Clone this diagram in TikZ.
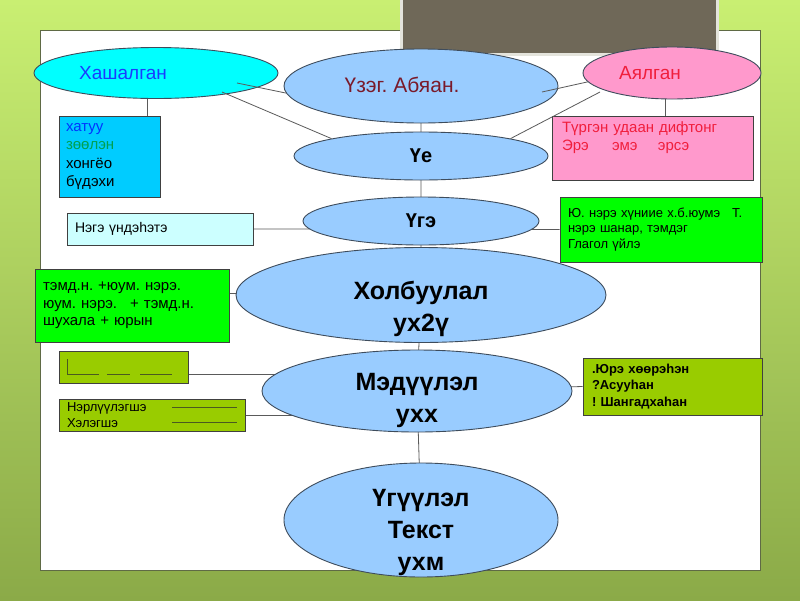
\documentclass[tikz,border=0pt]{standalone}
\usepackage{fontspec}
\setmainfont{Liberation Sans}
\usetikzlibrary{shapes.geometric,backgrounds}
\definecolor{leaf}{HTML}{C9EF72}
\definecolor{moss}{HTML}{8BAA48}
\definecolor{slate}{HTML}{6F6858}
\definecolor{pale}{HTML}{E4E4DC}
\definecolor{rim}{HTML}{5F6A45}
\definecolor{sky}{HTML}{99CCFF}
\definecolor{aqua}{HTML}{00FFFF}
\definecolor{rose}{HTML}{FF99CC}
\definecolor{deepsky}{HTML}{00CCFF}
\definecolor{ice}{HTML}{CCFFFF}
\definecolor{grass}{HTML}{00FF00}
\definecolor{sprout}{HTML}{99CC00}
\definecolor{edge}{HTML}{3E4C5C}
\definecolor{frame}{HTML}{404040}
\definecolor{wire}{HTML}{5A5A5A}
\definecolor{rule}{HTML}{4A5A20}
\definecolor{hashblue}{HTML}{1A3CFF}
\definecolor{inkblue}{HTML}{0033FF}
\definecolor{inkgreen}{HTML}{00A050}
\definecolor{wine}{HTML}{7A1A2A}
\definecolor{scarlet}{HTML}{F01E3C}
\newcommand{\fsz}[2]{\fontsize{#1}{#2}\selectfont}
\frenchspacing

\begin{document}
\begin{tikzpicture}[x=1pt,y=-1pt,
 bubble/.style={ellipse,draw=edge,line width=0.9pt,fill=sky,inner sep=0pt},
 word/.style={font=\bfseries\fsz{25}{32},align=center},
 box/.style={draw=frame,line width=0.7pt,inner xsep=7pt,inner ysep=0pt,align=left},
 link/.style={draw=wire,line width=0.8pt}]
\useasboundingbox (0,0) rectangle (800,600);
% ellipses
\node[bubble,fill=aqua,minimum width=244pt,minimum height=51pt,font=\fsz{19}{22},text=hashblue] (hash) at (156,73) {Хашалган\hspace*{66pt}};
\node[bubble,minimum width=274pt,minimum height=74pt,font=\fsz{21}{24},text=wine] (uzeg) at (421,86) {\raisebox{3pt}{Үзэг. Абяан.}\hspace*{38pt}};
\node[bubble,fill=rose,minimum width=178pt,minimum height=52pt,font=\fsz{19}{22},text=scarlet] (ayl) at (672,73) {Аялган\hspace*{44pt}};
\node[bubble,minimum width=254pt,minimum height=48pt,font=\bfseries\fsz{20}{24}] (ye) at (421,156) {Үе};
\node[bubble,minimum width=236pt,minimum height=48pt,font=\bfseries\fsz{20}{24}] (uge) at (421,221) {Үгэ};
\node[bubble,minimum width=370pt,minimum height=95pt,label={[word,yshift=-14pt]center:Холбуулал\\ух2ү}] (holb) at (421,295) {};
\node[bubble,minimum width=310pt,minimum height=82pt,label={[word,yshift=-9pt]center:Мэдүүлэл\\ухх}] (med) at (417,391) {};
\node[bubble,minimum width=274pt,minimum height=114pt,label={[word,yshift=-12pt]center:Үгүүлэл\\Текст\\ухм}] (tekst) at (421,520) {};
% boxes
\node[box,fill=deepsky,minimum width=101pt,minimum height=81pt,text width=87pt,font=\fsz{15}{18.5}] (hard) at (109.5,156.5) {\textcolor{inkblue}{хатуу}\\\textcolor{inkgreen}{зөөлэн}\\хонгёо\\бүдэхи};
\node[box,fill=rose,minimum width=201pt,minimum height=64pt,text width=181pt,inner xsep=10pt,font=\fsz{15}{18.5},text=scarlet] (sound) at (652.5,148) {Түргэн удаан дифтонг\\\makebox[50pt][l]{Эрэ}\makebox[46pt][l]{эмэ}эрсэ\\\strut};
\node[box,fill=ice,minimum width=186pt,minimum height=32pt,text width=170pt,inner xsep=8pt,font=\fsz{14}{17}] (ones) at (160,229) {Нэгэ үндэһэтэ};
\node[box,fill=grass,minimum width=194pt,minimum height=73pt,text width=178pt,inner xsep=8pt,font=\fsz{15}{17.5}] (comb) at (132,305.5) {тэмд.н. +юум. нэрэ.\\юум. нэрэ.\hspace{8pt} + тэмд.н.\\шухала + юрын};
\node[box,fill=grass,minimum width=202pt,minimum height=65pt,text width=186pt,inner xsep=8pt,font=\fsz{13}{15.5}] (nouns) at (661,229.5) {Ю. нэрэ хүниие х.б.юумэ\hspace{12pt}Т.\\нэрэ шанар, тэмдэг\\Глагол үйлэ};
\node[box,fill=sprout,minimum width=129pt,minimum height=32pt] (blank) at (123.5,367) {};
\node[box,fill=sprout,minimum width=186pt,minimum height=32pt,text width=170pt,inner xsep=8pt,font=\fsz{13}{16}] (mark) at (152,415) {Нэрлүүлэгшэ\\Хэлэгшэ};
\node[box,fill=sprout,minimum width=179pt,minimum height=57pt,text width=161pt,inner xsep=9pt,font=\bfseries\fsz{13}{16.5}] (kind) at (672.5,386.5) {.Юрэ хөөрэһэн\\?Асууһан\\! Шангадхаһан};
% blanks to fill in
\draw[rule,line width=0.9pt] (67,359) -- (67,374) -- (99,374) (107,374) -- (130,374) (140,374) -- (172,374);
\draw[rule,line width=0.9pt] (172,407) -- (237,407) (172,422) -- (237,422);
\begin{pgfonlayer}{background}
\shade[top color=leaf,bottom color=moss] (0,0) rectangle (800,600);
\draw[fill=white,draw=rim,line width=1pt] (40,30) rectangle (760,570);
\draw[fill=slate,draw=pale,line width=3pt] (401.5,-5) rectangle (717.5,54.5);
\draw[link] (uzeg.center) -- (ye.center) -- (uge.center) -- (holb.center) -- (med.center) -- (tekst.center);
\draw[link] ([xshift=37.5pt]hard.north) -- ([xshift=37.5pt]hard.north |- hash.center);
\draw[link] ([xshift=12.5pt]sound.north) -- ([xshift=12.5pt]sound.north |- ayl.center);
\draw[link] (ones.east) -- (nouns.west);
\draw[link] ([yshift=12.5pt]comb.east) -- ([yshift=12.5pt]comb.east -| holb.center);
\draw[link] ([yshift=-7pt]blank.east) -- ([yshift=-7pt]blank.east -| med.center);
\draw[link] (mark.east) -- (mark.east -| med.center);
\draw[link] (med.center) -- (kind.west);
\end{pgfonlayer}
\draw[link] ([shift={(81,10)}]hash.center) -- (uzeg.183);
\draw[link] ([shift={(66,19)}]hash.center) -- (ye.169);
\draw[link] ([shift={(121,6)}]uzeg.center) -- (ayl.186);
\draw[link] ([shift={(-72,19)}]ayl.center) -- (ye.11);
\end{tikzpicture}
\end{document}
